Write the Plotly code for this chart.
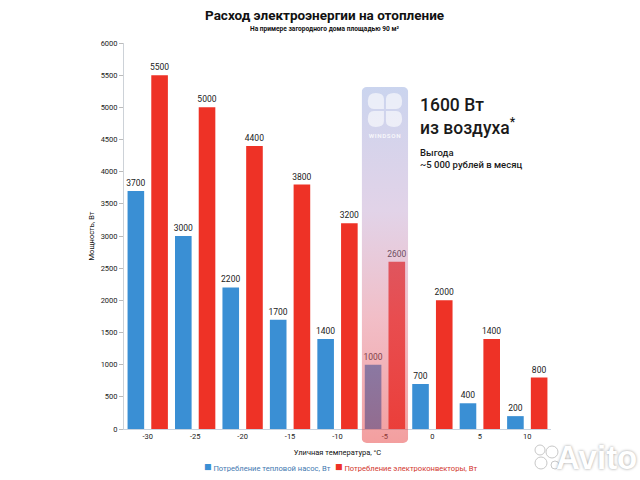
import base64
import plotly.graph_objects as go

# ---- data ----
temperatures = ["-30", "-25", "-20", "-15", "-10", "-5", "0", "5", "10"]
heat_pump_w = [3700, 3000, 2200, 1700, 1400, 1000, 700, 400, 200]
convector_w = [5500, 5000, 4400, 3800, 3200, 2600, 2000, 1400, 800]
highlight_category = "-5"
series_names = ["Потребление тепловой насос, Вт", "Потребление электроконвекторы, Вт"]
title_text = "Расход электроэнергии на отопление"
subtitle_text = "На примере загородного дома площадью 90 м²"
y_title = "Мощность, Вт"
x_title = "Уличная температура, °C"

BLUE = "#3a8fd4"
RED = "#ee3226"
BLUE_TXT = "#3f78b0"
RED_TXT = "#d2352d"
FONT = "Roboto"

fig = go.Figure()
fig.add_trace(go.Bar(
    x=temperatures, y=heat_pump_w, name=series_names[0],
    marker=dict(color=BLUE, line=dict(width=0)),
    text=heat_pump_w, textposition="outside", cliponaxis=False, constraintext="none",
    textfont=dict(size=8.5, color="#222", family=FONT),
))
fig.add_trace(go.Bar(
    x=temperatures, y=convector_w, name=series_names[1],
    marker=dict(color=RED, line=dict(width=0)),
    text=convector_w, textposition="outside", cliponaxis=False, constraintext="none",
    textfont=dict(size=8.5, color="#222", family=FONT),
))

# ---- highlight band (gradient with logo) as an SVG image ----
W, H = 46, 356
petal = "M16,16 L16,6 Q16,0 8,0 Q0,0 0,8 Q0,16 6,16 Z"
svg = f"""<svg xmlns='http://www.w3.org/2000/svg' width='{W}' height='{H}' viewBox='0 0 {W} {H}'>
<defs><linearGradient id='g' x1='0' y1='0' x2='0' y2='1'>
<stop offset='0' stop-color='rgb(150,170,222)' stop-opacity='0.5'/>
<stop offset='0.35' stop-color='rgb(185,150,200)' stop-opacity='0.42'/>
<stop offset='0.65' stop-color='rgb(225,110,130)' stop-opacity='0.45'/>
<stop offset='1' stop-color='rgb(232,70,70)' stop-opacity='0.52'/>
</linearGradient></defs>
<rect x='0' y='0' width='{W}' height='{H}' rx='5' ry='5' fill='url(#g)'/>
<g fill='white' fill-opacity='0.6'>
<path transform='translate(6,6)' d='{petal}'/>
<path transform='translate(40,6) scale(-1,1)' d='{petal}'/>
<path transform='translate(6,40) scale(1,-1)' d='{petal}'/>
<path transform='translate(40,40) scale(-1,-1)' d='{petal}'/>
</g>
<text x='23' y='51' text-anchor='middle' font-family='Roboto, sans-serif' font-size='6.2' font-weight='bold' letter-spacing='0.6' fill='white' fill-opacity='0.8'>WINDSON</text>
</svg>"""
src = "data:image/svg+xml;base64," + base64.b64encode(svg.encode("utf-8")).decode()

n = len(temperatures)
hi = temperatures.index(highlight_category)
fig.add_layout_image(dict(
    source=src, xref="paper", yref="paper",
    x=(hi + 0.5 - 0.49) / n, sizex=0.98 / n,
    y=0.886, sizey=0.922,
    xanchor="left", yanchor="top", sizing="stretch", layer="above", opacity=1,
))

fig.update_layout(
    width=640, height=480,
    margin=dict(l=124, r=89, t=43, b=51),
    paper_bgcolor="white", plot_bgcolor="white",
    font=dict(family=FONT, color="#222"),
    bargap=0.0, bargroupgap=0.3, barmode="group",
    showlegend=False,
    xaxis=dict(type="category", showline=True, linecolor="#c9d3de", linewidth=1,
               ticks="", tickfont=dict(size=7.5, color="#222"), showgrid=False,
               title=dict(text=x_title, font=dict(size=7.5, color="#111"), standoff=9),
               automargin=False),
    yaxis=dict(range=[0, 6000], dtick=500, showline=True, linecolor="#cdd2d8", linewidth=1,
               ticks="outside", ticklen=4, tickcolor="#bbb", showgrid=False, zeroline=False,
               tickfont=dict(size=7.5, color="#222"),
               title=dict(text=y_title, font=dict(size=7.5, color="#111"), standoff=5),
               automargin=False),
)

def px_x(px):
    return (px - 124) / 427

def px_y(py):
    return (429 - py) / 386

fig.add_annotation(text=f"<b>{title_text}</b>", xref="paper", yref="paper",
                   x=px_x(324), y=px_y(15), showarrow=False,
                   font=dict(size=13.5, family=FONT, color="#111"), yanchor="middle")
fig.add_annotation(text=f"<b>{subtitle_text}</b>", xref="paper", yref="paper",
                   x=px_x(324), y=px_y(29), showarrow=False,
                   font=dict(size=6.6, family=FONT, color="#111"), yanchor="middle")
fig.add_annotation(text="1600 Вт<br>из воздуха<sup>*</sup>", xref="paper", yref="paper",
                   x=px_x(418), y=px_y(93), showarrow=False,
                   xanchor="left", yanchor="top", align="left",
                   font=dict(size=17.5, family=FONT, color="#1a1a1a", weight=500))
fig.add_annotation(text="Выгода<br>~5 000 рублей в месяц", xref="paper", yref="paper",
                   x=px_x(418), y=px_y(145), showarrow=False,
                   xanchor="left", yanchor="top", align="left",
                   font=dict(size=9.5, family=FONT, color="#1a1a1a", weight=500))

# legend (compact, as in the reference)
for name, sq_col, txt_col, left in [(series_names[0], BLUE, BLUE_TXT, 202),
                                     (series_names[1], RED, RED_TXT, 333)]:
    fig.add_annotation(
        text=f"<span style='font-size:12.5px;color:{sq_col}'>■</span> {name}",
        xref="paper", yref="paper", x=px_x(left), y=px_y(467), showarrow=False,
        xanchor="left", yanchor="middle",
        font=dict(size=7.6, family=FONT, color=txt_col))

# watermark
fig.add_annotation(text="<b>Avito</b>", xref="paper", yref="paper",
                   x=px_x(596), y=px_y(457), showarrow=False,
                   xanchor="center", yanchor="middle",
                   font=dict(size=33, family="Liberation Sans", color="white",
                             shadow="0px 0px 3px #9a9a9a"))
for cx, cy, r in [(540, 450, 5), (552, 452, 6), (541, 463, 6), (555, 465, 4)]:
    fig.add_shape(type="circle", xref="paper", yref="paper",
                  x0=px_x(cx - r), x1=px_x(cx + r), y0=px_y(cy + r), y1=px_y(cy - r),
                  fillcolor="white", line=dict(color="#c8c8c8", width=1), layer="above")

fig.write_html("out.html")
